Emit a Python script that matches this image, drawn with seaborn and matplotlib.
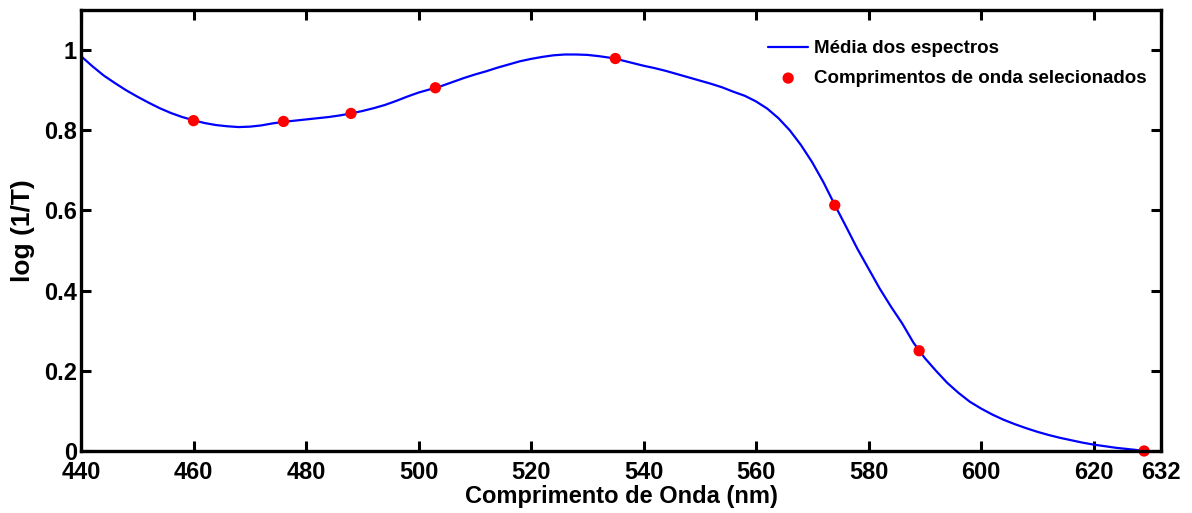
import matplotlib
matplotlib.use("Agg")
import matplotlib.pyplot as plt
import seaborn as sns
import pandas as pd

# ---- data ----
wavelength_curve = [440, 442, 444, 446, 448, 450, 452, 454, 456, 458, 460, 462, 464, 466,
                    468, 470, 472, 474, 476, 478, 480, 482, 484, 486, 488, 490, 492, 494,
                    496, 498, 500, 502, 504, 506, 508, 510, 512, 514, 516, 518, 520, 522,
                    524, 526, 528, 530, 532, 534, 536, 538, 540, 542, 544, 546, 548, 550,
                    552, 554, 556, 558, 560, 562, 564, 566, 568, 570, 572, 574, 576, 578,
                    580, 582, 584, 586, 588, 590, 592, 594, 596, 598, 600, 602, 604, 606,
                    608, 610, 612, 614, 616, 618, 620, 622, 624, 626, 628]
absorbance_curve = [0.985, 0.960, 0.937, 0.918, 0.900, 0.884, 0.869, 0.855, 0.843, 0.833,
                    0.825, 0.818, 0.813, 0.810, 0.808, 0.809, 0.812, 0.817, 0.821, 0.824,
                    0.827, 0.830, 0.833, 0.837, 0.842, 0.848, 0.855, 0.863, 0.873, 0.884,
                    0.894, 0.902, 0.910, 0.920, 0.930, 0.939, 0.947, 0.956, 0.964, 0.972,
                    0.978, 0.983, 0.987, 0.989, 0.989, 0.988, 0.985, 0.981, 0.975, 0.968,
                    0.961, 0.955, 0.948, 0.940, 0.932, 0.924, 0.916, 0.907, 0.896, 0.886,
                    0.872, 0.854, 0.830, 0.800, 0.763, 0.720, 0.670, 0.614, 0.560, 0.505,
                    0.455, 0.405, 0.360, 0.318, 0.270, 0.232, 0.200, 0.170, 0.145, 0.123,
                    0.106, 0.091, 0.078, 0.067, 0.057, 0.048, 0.040, 0.033, 0.027, 0.021,
                    0.016, 0.012, 0.008, 0.005, 0.002]

selected_wl = [460, 476, 488, 503, 535, 574, 589, 629]
selected_abs = [0.824, 0.822, 0.842, 0.906, 0.979, 0.613, 0.250, 0.0]

x_ticks = [440, 460, 480, 500, 520, 540, 560, 580, 600, 620, 632]
x_tick_labels = ["440", "460", "480", "500", "520", "540", "560", "580", "600", "620", "632"]
y_ticks = [0, 0.2, 0.4, 0.6, 0.8, 1.0]
y_tick_labels = ["0", "0.2", "0.4", "0.6", "0.8", "1"]

line_label = "Média dos espectros"
points_label = "Comprimentos de onda selecionados"
x_title = "Comprimento de Onda (nm)"
y_title = "log (1/T)"

curve_df = pd.DataFrame({"wl": wavelength_curve, "abs": absorbance_curve})
points_df = pd.DataFrame({"wl": selected_wl, "abs": selected_abs})

# ---- style ----
sns.set_style("white")
plt.rcParams["font.family"] = ["Liberation Sans", "DejaVu Sans"]
plt.rcParams["font.weight"] = "bold"
plt.rcParams["text.color"] = "black"
plt.rcParams["axes.labelcolor"] = "black"
plt.rcParams["xtick.color"] = "black"
plt.rcParams["ytick.color"] = "black"

fig = plt.figure(figsize=(11.92, 5.13), dpi=100)
ax = fig.add_axes([81 / 1192, 1 - 451 / 513, (1161 - 81) / 1192, (451 - 10) / 513])

sns.lineplot(data=curve_df, x="wl", y="abs", ax=ax, color="#0000ff", linewidth=1.6,
             label=line_label, sort=True, estimator=None)
sns.scatterplot(data=points_df, x="wl", y="abs", ax=ax, color="#ff0000", s=66,
                edgecolor="none", label=points_label, zorder=3, clip_on=False)

ax.set_xlim(440, 632)
ax.set_ylim(0, 1.1)
ax.set_xticks(x_ticks)
ax.set_xticklabels(x_tick_labels, fontsize=17, fontweight="bold", color="black")
ax.set_yticks(y_ticks)
ax.set_yticklabels(y_tick_labels, fontsize=17, fontweight="bold", color="black")

ax.tick_params(axis="both", direction="in", length=7, width=2.2, color="black",
               top=True, right=True, bottom=True, left=True)
ax.tick_params(axis="x", pad=7)
ax.tick_params(axis="y", pad=3)

for sp in ax.spines.values():
    sp.set_visible(True)
    sp.set_color("black")
    sp.set_linewidth(2.4)
    sp.set_zorder(4)

ax.set_xlabel(x_title, fontsize=17, fontweight="bold", labelpad=1, color="black")
ax.set_ylabel(y_title, fontsize=19, fontweight="bold", labelpad=6, color="black")

leg = ax.legend(loc="upper left", bbox_to_anchor=((768 - 81) / 1080, (451 - 40) / 441),
                frameon=False, borderpad=0, borderaxespad=0, handlelength=2.15,
                handletextpad=0.3, labelspacing=0.68, prop={"size": 13.5, "weight": "bold"})
for t in leg.get_texts():
    t.set_color("black")

fig.savefig("out.png", dpi=100, facecolor="white")
